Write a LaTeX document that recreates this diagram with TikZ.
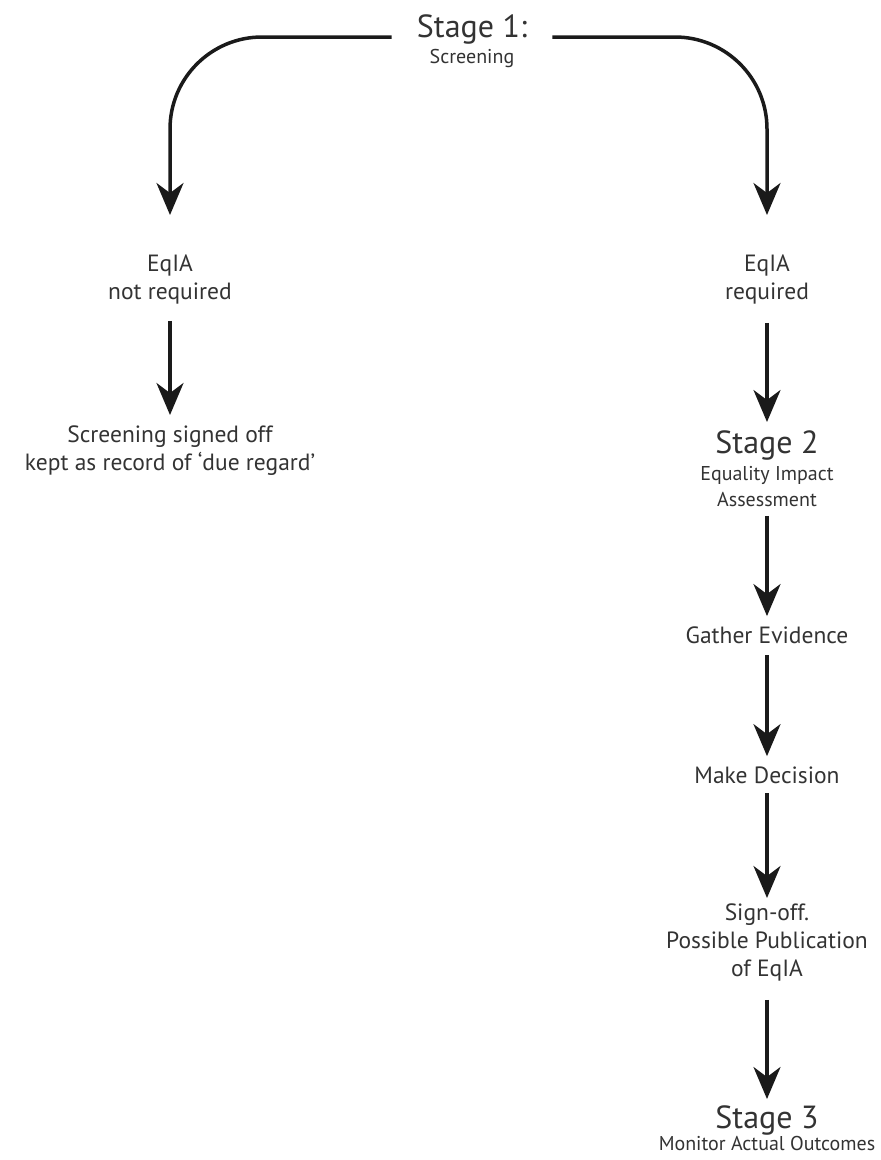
\documentclass[tikz,border=0pt]{standalone}
\usepackage{fontspec}
\setmainfont{PT Sans}
\usetikzlibrary{arrows.meta}
\definecolor{txtc}{HTML}{333333}
\definecolor{arrc}{HTML}{1A1A1A}
\begin{document}
\begin{tikzpicture}[x=1pt,y=-1pt,
  txt/.style={align=center, inner sep=0pt, text=txtc, font=\fontsize{23.5}{28}\selectfont},
  big/.style={txt, font=\fontsize{32}{36}\selectfont},
  small/.style={txt, font=\fontsize{20}{26}\selectfont},
  arr/.style={line width=3.5pt, draw=arrc, -{Stealth[length=32pt,width=27pt,inset=10pt]}, shorten <=12pt, shorten >=10pt}]
\useasboundingbox (0,0) rectangle (881,1160);
\node[big, anchor=base, inner xsep=25pt] (s1) at (472,37) {Stage 1:};
\node[small, anchor=base] (s1sub) at (472,63) {Screening};
\node[txt, anchor=north] (nreq) at (170,255) {EqIA\\not required};
\node[txt, anchor=north] (sso) at (170,426) {Screening signed off\\kept as record of ‘due regard’};
\node[txt, anchor=north] (req) at (767,255) {EqIA\\required};
\node[big, anchor=base] (s2) at (767,453) {Stage 2};
\node[small, anchor=north] (s2sub) at (767,466) {Equality Impact\\Assessment};
\node[txt, anchor=base] (ge) at (767,643) {Gather Evidence};
\node[txt, anchor=base] (md) at (767,783) {Make Decision};
\node[txt, anchor=north] (so) at (767,904) {Sign-off.\\Possible Publication\\of EqIA};
\node[big, anchor=base] (s3) at (767,1128) {Stage 3};
\node[small, anchor=base] (s3sub) at (767,1150) {Monitor Actual Outcomes};
\draw[arr, shorten <=0pt, shorten >=40pt, rounded corners=92pt] (s1.base west) -| (nreq.north);
\draw[arr, shorten <=0pt, shorten >=40pt, rounded corners=92pt] (s1.base east) -| (req.north);
\draw[arr, shorten <=16pt, shorten >=11pt] (nreq) -- (sso);
\draw[arr, shorten <=18pt, shorten >=8pt] (req) -- (s2);
\draw[arr, shorten <=9pt] (s2sub) -- (ge);
\draw[arr] (ge) -- (md);
\draw[arr, shorten <=10pt, shorten >=6pt] (md) -- (so);
\draw[arr, shorten <=18pt, shorten >=6pt] (so) -- (s3);
\end{tikzpicture}
\end{document}
